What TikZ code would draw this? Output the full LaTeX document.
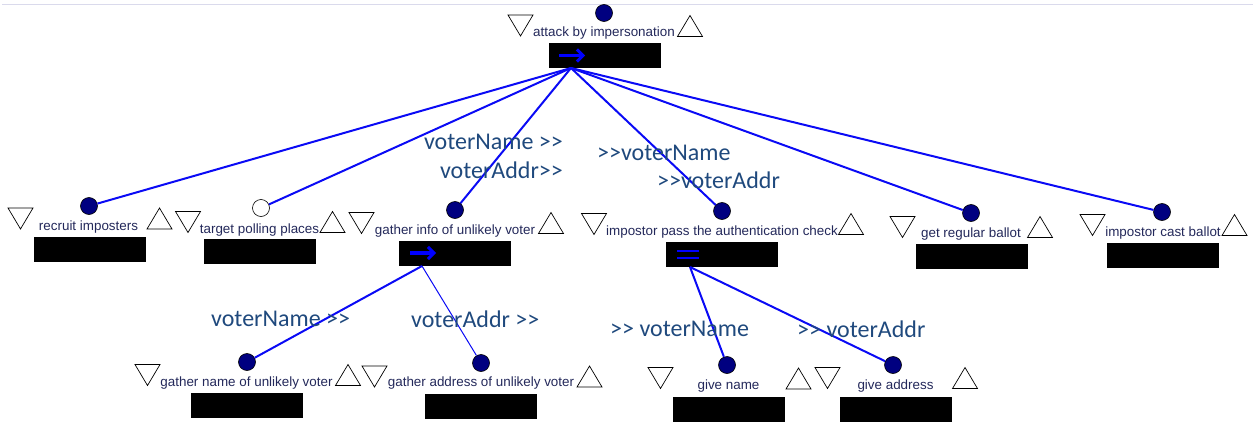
\documentclass[tikz,border=0pt]{standalone}
\usepackage{fontspec}
\setmainfont{Liberation Sans}
\newfontfamily\flowfont{Carlito}
\usetikzlibrary{arrows.meta}
\definecolor{navyfill}{RGB}{0,0,128}
\definecolor{nodetext}{RGB}{35,40,90}
\definecolor{flowtext}{RGB}{31,73,125}
\definecolor{edgeblue}{RGB}{10,10,245}
\definecolor{rulecol}{RGB}{218,218,236}
\tikzset{
  goal/.style={circle, draw=black, fill=navyfill, minimum size=17pt, inner sep=0pt, line width=0.6pt},
  opengoal/.style={goal, fill=white},
  goaltext/.style={font=\fontsize{13.4}{15}\selectfont, text=nodetext, anchor=base, inner sep=0pt},
  slot/.style={fill=black, draw=none, minimum width=112pt, minimum height=25pt, inner sep=0pt},
  link/.style={draw=edgeblue, line width=2pt},
  thinlink/.style={draw=edgeblue, line width=1pt},
  flow/.style={font=\flowfont\fontsize{24}{28}\selectfont, text=flowtext, inner sep=0pt},
  opsym/.style={draw=blue, line width=3.4pt, -{Straight Barb[length=6pt,width=12pt,line width=3pt]}},
  downtri/.pic={\draw[black, line width=0.7pt, fill=white] (-12.5,-10.5) -- (12.5,-10.5) -- (0,10.5) -- cycle;},
  uptri/.pic={\draw[black, line width=0.7pt, fill=white] (-12.5,10.5) -- (12.5,10.5) -- (0,-10.5) -- cycle;}
}
\begin{document}
\begin{tikzpicture}[x=1pt,y=-1pt]
\useasboundingbox (0,0) rectangle (1253,423);
\draw[rulecol, line width=1pt] (2,4.5) -- (1253,4.5);

% root: attack by impersonation
\node[goal] (g0) at (604,13) {};
\node[goaltext] (t0) at (604,36.5) {attack by impersonation};
\pic (d0) at (520.5,25.5) {downtri};
\pic (u0) at (690,26) {uptri};
\node[slot] (b0) at (605,55.5) {};
\draw[opsym] (559,55.5) -- (585,55.5);
\coordinate (o0) at (571,68);

% first level
\node[goal] (g1) at (89,206) {};
\node[goaltext] (t1) at (88.5,230.5) {recruit imposters};
\pic (d1) at (20.5,218.5) {downtri};
\pic (u1) at (159.5,218.5) {uptri};
\node[slot] (b1) at (89.5,249.5) {};

\node[opengoal] (g2) at (261,208) {};
\node[goaltext] (t2) at (259.5,233) {target polling places};
\pic (d2) at (188,222) {downtri};
\pic (u2) at (332.5,222) {uptri};
\node[slot] (b2) at (260,251.5) {};

\node[goal] (g3) at (455,210) {};
\node[goaltext] (t3) at (455,234) {gather info of unlikely voter};
\pic (d3) at (361.5,223) {downtri};
\pic (u3) at (551,223) {uptri};
\node[slot] (b3) at (455,253) {};
\draw[opsym] (410,253) -- (436,253);
\coordinate (o3) at (422,266);

\node[goal] (g4) at (722,211) {};
\node[goaltext] (t4) at (722,235.5) {impostor pass the authentication check};
\pic (d4) at (594,224) {downtri};
\pic (u4) at (851,224) {uptri};
\node[slot] (b4) at (721.5,254.5) {};
\draw[draw=blue, line width=2pt] (677,251) -- (699,251) (677,257.5) -- (699,257.5);
\coordinate (o4) at (690,267);

\node[goal] (g5) at (971,213) {};
\node[goaltext] (t5) at (971,237.5) {get regular ballot};
\pic (d5) at (902.5,227) {downtri};
\pic (u5) at (1040,227) {uptri};
\node[slot] (b5) at (971.5,256.5) {};

\node[goal] (g6) at (1162,212) {};
\node[goaltext] (t6) at (1163,236.5) {impostor cast ballot};
\pic (d6) at (1092.5,225) {downtri};
\pic (u6) at (1234.5,225) {uptri};
\node[slot] (b6) at (1162.5,255.5) {};

% second level
\node[goal] (g7) at (247,362) {};
\node[goaltext] (t7) at (246.5,386) {gather name of unlikely voter};
\pic (d7) at (147.5,375) {downtri};
\pic (u7) at (348,375) {uptri};
\node[slot] (b7) at (246.5,405) {};

\node[goal] (g8) at (481,363) {};
\node[goaltext] (t8) at (481,386.5) {gather address of unlikely voter};
\pic (d8) at (374.5,376.5) {downtri};
\pic (u8) at (589.5,376.5) {uptri};
\node[slot] (b8) at (481,406.5) {};

\node[goal] (g9) at (727,365) {};
\node[goaltext] (t9) at (728.5,389.5) {give name};
\pic (d9) at (660.5,378) {downtri};
\pic (u9) at (798.5,378.5) {uptri};
\node[slot] (b9) at (729,409.5) {};

\node[goal] (g10) at (893,365) {};
\node[goaltext] (t10) at (895.5,389.5) {give address};
\pic (d10) at (827.5,378) {downtri};
\pic (u10) at (965,378) {uptri};
\node[slot] (b10) at (896,409.5) {};

% decomposition links
\foreach \c in {g1,g2,g3,g4,g5,g6} \draw[link] (o0) -- (\c);
\draw[link] (o3) -- (g7);
\draw[thinlink] (o3) -- (g8);
\draw[link] (o4) -- (g9);
\draw[link] (o4) -- (g10);

% data flow annotations
\node[flow, anchor=east] (f1) at (563,142) {voterName >>};
\node[flow, anchor=east] (f2) at (563,170) {voterAddr>>};
\node[flow, anchor=west] (f3) at (597,153) {>>voterName};
\node[flow, anchor=west] (f4) at (657,180) {>>voterAddr};
\node[flow, anchor=west] (f5) at (211,319) {voterName >>};
\node[flow, anchor=west] (f6) at (411,319) {voterAddr >>};
\node[flow, anchor=west] (f7) at (610,329) {>> voterName};
\node[flow, anchor=west] (f8) at (797,329) {>> voterAddr};
\end{tikzpicture}
\end{document}
